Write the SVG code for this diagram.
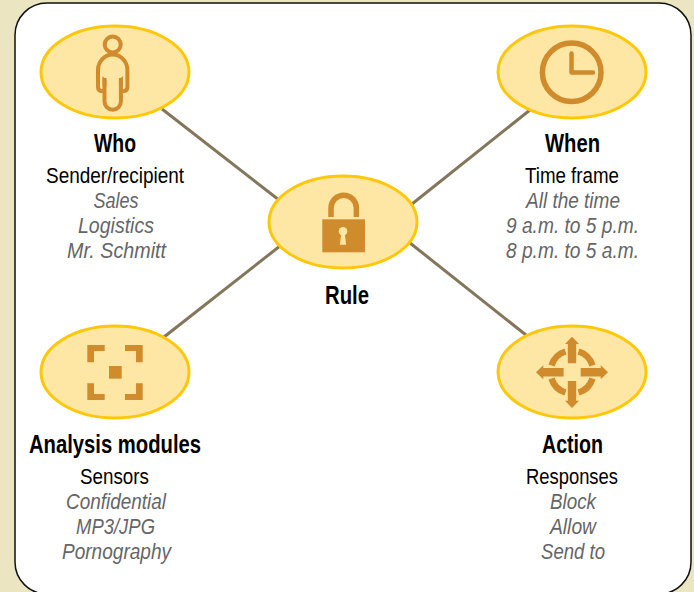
<svg xmlns="http://www.w3.org/2000/svg" width="694" height="592" viewBox="0 0 694 592">
<style>
text{font-family:"Liberation Sans",Arial,sans-serif;text-anchor:middle}
.t{font-size:25px;font-weight:700;fill:#000}
.s{font-size:21.500px;fill:#000}
.i{font-size:21.500px;font-style:italic;fill:#666}
.e{fill:#fee6a4;stroke:#fdc80a;stroke-width:3}
.ic{fill:#d08b2d}
.il{fill:none;stroke:#d08b2d}
.c{stroke:#84765a;stroke-width:3;fill:none}
</style>
<rect width="694" height="592" fill="#ebe5c1"/>
<rect id="panel" x="15" y="3" width="676" height="591" rx="32" fill="#fff" stroke="#111" stroke-width="1.5"/>
<g id="connectors">
<line class="c" x1="162" y1="109" x2="279" y2="200"/>
<line class="c" x1="530" y1="110" x2="412" y2="204"/>
<line class="c" x1="280" y1="246" x2="164" y2="337"/>
<line class="c" x1="410" y1="243" x2="526" y2="335"/>
</g>
<g id="who">
<ellipse class="e" cx="115" cy="72" rx="74" ry="46"/>
<circle class="il" cx="112.700" cy="44.500" r="8" stroke-width="4"/>
<path class="il" stroke-width="4" d="M104.500 78V101.500a8.200 8.200 0 0 0 16.400 0V78M104 91.500Q98 91.500 98 87V70A14.700 15.500 0 0 1 127.400 70V87Q127.400 91.500 121.500 91.500"/>
<path class="ic" d="M102.500 76L106.500 80V86H102.500ZM122.900 76L118.900 80V86H122.900Z"/>
<text class="t" x="115" y="151.500" textLength="42" lengthAdjust="spacingAndGlyphs">Who</text>
<text class="s" x="115" y="183" textLength="138" lengthAdjust="spacingAndGlyphs">Sender/recipient</text>
<text class="i" x="116" y="207.500" textLength="45" lengthAdjust="spacingAndGlyphs">Sales</text>
<text class="i" x="116" y="232.500" textLength="76" lengthAdjust="spacingAndGlyphs">Logistics</text>
<text class="i" x="116.500" y="257.500" textLength="99" lengthAdjust="spacingAndGlyphs">Mr. Schmitt</text>
</g>
<g id="when">
<ellipse class="e" cx="572" cy="72" rx="74" ry="46"/>
<circle class="il" cx="571.700" cy="72.300" r="29.300" stroke-width="5.500"/>
<path class="il" stroke-width="4.500" stroke-linecap="round" stroke-linejoin="round" d="M571.500 53.500V72.500H593"/>
<text class="t" x="572.500" y="151.500" textLength="55" lengthAdjust="spacingAndGlyphs">When</text>
<text class="s" x="572" y="183" textLength="94" lengthAdjust="spacingAndGlyphs">Time frame</text>
<text class="i" x="573" y="207.500" textLength="94" lengthAdjust="spacingAndGlyphs">All the time</text>
<text class="i" x="572.500" y="232.500" textLength="133" lengthAdjust="spacingAndGlyphs">9 a.m. to 5 p.m.</text>
<text class="i" x="572.500" y="257.500" textLength="133" lengthAdjust="spacingAndGlyphs">8 p.m. to 5 a.m.</text>
</g>
<g id="rule">
<ellipse class="e" cx="343" cy="222" rx="74" ry="46"/>
<path class="il" stroke-width="5.500" d="M331 217V208a12.700 12.700 0 0 1 25.400 0V217"/>
<rect class="ic" x="322.300" y="219.300" width="42.700" height="33"/>
<circle cx="343" cy="231.300" r="4.300" fill="#fee6a4"/>
<path d="M341.500 232H344.500L346.200 244.700H339.800Z" fill="#fee6a4"/>
<text class="t" x="347" y="303.500" textLength="44" lengthAdjust="spacingAndGlyphs">Rule</text>
</g>
<g id="analysis">
<ellipse class="e" cx="115" cy="372" rx="74" ry="46"/>
<path class="ic" d="M87.300 345H104.700V351H94V362.300H87.300ZM142.700 345H125V351H136V362.300H142.700ZM87.300 400H104.700V394H94V383.300H87.300ZM142.700 400H125V394H136V383.300H142.700Z"/>
<rect class="ic" x="109" y="366" width="12.700" height="12.700"/>
<text class="t" x="115" y="452.500" textLength="172" lengthAdjust="spacingAndGlyphs">Analysis modules</text>
<text class="s" x="114.500" y="484" textLength="69" lengthAdjust="spacingAndGlyphs">Sensors</text>
<text class="i" x="116" y="508.500" textLength="100" lengthAdjust="spacingAndGlyphs">Confidential</text>
<text class="i" x="115.500" y="533.500" textLength="79" lengthAdjust="spacingAndGlyphs">MP3/JPG</text>
<text class="i" x="116.500" y="558.500" textLength="109" lengthAdjust="spacingAndGlyphs">Pornography</text>
</g>
<g id="action">
<ellipse class="e" cx="572" cy="372" rx="74" ry="46"/>
<path class="il" stroke-width="6.500" d="M578.500 351.500A21 21 0 0 1 592.500 365.500M592.500 378.500A21 21 0 0 1 578.500 392.500M565.500 392.500A21 21 0 0 1 551.500 378.500M551.500 365.500A21 21 0 0 1 565.500 351.500"/>
<path class="ic" d="M572 336.700L579 344H576.200V363.300H567.800V344H565ZM572 408L579 400.700H576.200V381H567.800V400.700H565ZM536 372.300L543.300 365.300V368.100H563.600V376.500H543.300V379.300ZM608 372.300L600.700 365.300V368.100H580.700V376.500H600.700V379.300Z"/>
<text class="t" x="572.500" y="452.500" textLength="61" lengthAdjust="spacingAndGlyphs">Action</text>
<text class="s" x="572" y="484" textLength="92" lengthAdjust="spacingAndGlyphs">Responses</text>
<text class="i" x="573" y="508.500" textLength="46" lengthAdjust="spacingAndGlyphs">Block</text>
<text class="i" x="573" y="533.500" textLength="46" lengthAdjust="spacingAndGlyphs">Allow</text>
<text class="i" x="573" y="558.500" textLength="64" lengthAdjust="spacingAndGlyphs">Send to</text>
</g>
</svg>
